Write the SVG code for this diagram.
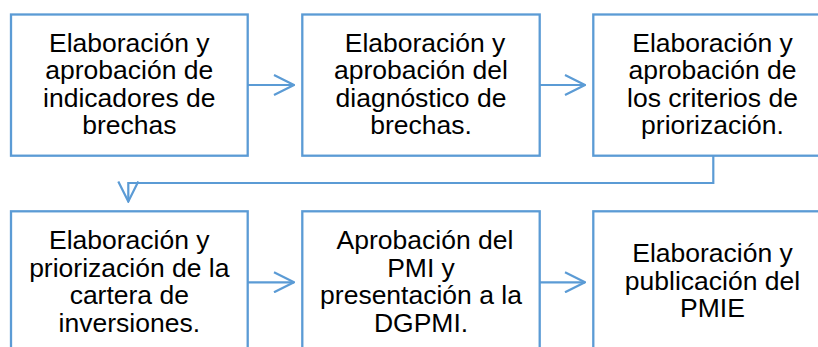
<svg xmlns="http://www.w3.org/2000/svg" width="818" height="347" viewBox="0 0 818 347">
<style>
.box{fill:#fff;stroke:#5B9BD5;stroke-width:2.3}
.t{font-family:"Liberation Sans",Arial,sans-serif;font-size:26.5px;fill:#000;text-anchor:middle}
.c{fill:none;stroke:#5B9BD5;stroke-width:2.2}
</style>
<defs>
<marker id="ah" viewBox="0 0 22 22" refX="21" refY="11" markerWidth="22" markerHeight="22" markerUnits="userSpaceOnUse" orient="auto">
<path d="M1,1 L21,11 L1,21" fill="none" stroke="#5B9BD5" stroke-width="2.2"/>
</marker>
</defs>
<rect width="818" height="347" fill="#fff"/>
<g id="connectors">
<path class="c" d="M247.7,85 H294" marker-end="url(#ah)"/>
<path class="c" d="M539.7,85 H585" marker-end="url(#ah)"/>
<path class="c" d="M713.3,156 V183 H128.3 V201.5" marker-end="url(#ah)"/>
<path class="c" d="M247.7,282.3 H294" marker-end="url(#ah)"/>
<path class="c" d="M539.7,282.3 H585" marker-end="url(#ah)"/>
</g>
<g id="n1">
<rect class="box" x="11" y="14.5" width="236.7" height="141.2"/>
<text class="t"><tspan x="129.3" y="51.7">Elaboración y</tspan><tspan x="129.3" y="79.2">aprobación de</tspan><tspan x="129.3" y="106.8">indicadores de</tspan><tspan x="129.3" y="134.4">brechas</tspan></text>
</g>
<g id="n2">
<rect class="box" x="302.3" y="14.5" width="237.4" height="141.2"/>
<text class="t"><tspan x="425" y="51.7">Elaboración y</tspan><tspan x="421" y="79.2">aprobación del</tspan><tspan x="421" y="106.8">diagnóstico de</tspan><tspan x="421" y="134.4">brechas.</tspan></text>
</g>
<g id="n3">
<rect class="box" x="593.3" y="14.5" width="237.4" height="141.2"/>
<text class="t"><tspan x="712.5" y="51.7">Elaboración y</tspan><tspan x="712.5" y="79.2">aprobación de</tspan><tspan x="712.5" y="106.8">los criterios de</tspan><tspan x="712.5" y="134.4">priorización.</tspan></text>
</g>
<g id="n4">
<rect class="box" x="11" y="211.3" width="236.7" height="141.2"/>
<text class="t"><tspan x="129.3" y="249">Elaboración y</tspan><tspan x="129.3" y="276.6">priorización de la</tspan><tspan x="129.3" y="304.2">cartera de</tspan><tspan x="129.3" y="331.6">inversiones.</tspan></text>
</g>
<g id="n5">
<rect class="box" x="302.3" y="211.3" width="237.4" height="141.2"/>
<text class="t"><tspan x="425" y="249">Aprobación del</tspan><tspan x="421" y="276.6">PMI y</tspan><tspan x="421" y="304.2">presentación a la</tspan><tspan x="421" y="331.6">DGPMI.</tspan></text>
</g>
<g id="n6">
<rect class="box" x="593.3" y="211.3" width="237.4" height="141.2"/>
<text class="t"><tspan x="712.5" y="261.8">Elaboración y</tspan><tspan x="712.5" y="289.6">publicación del</tspan><tspan x="712.5" y="317.3">PMIE</tspan></text>
</g>
</svg>
